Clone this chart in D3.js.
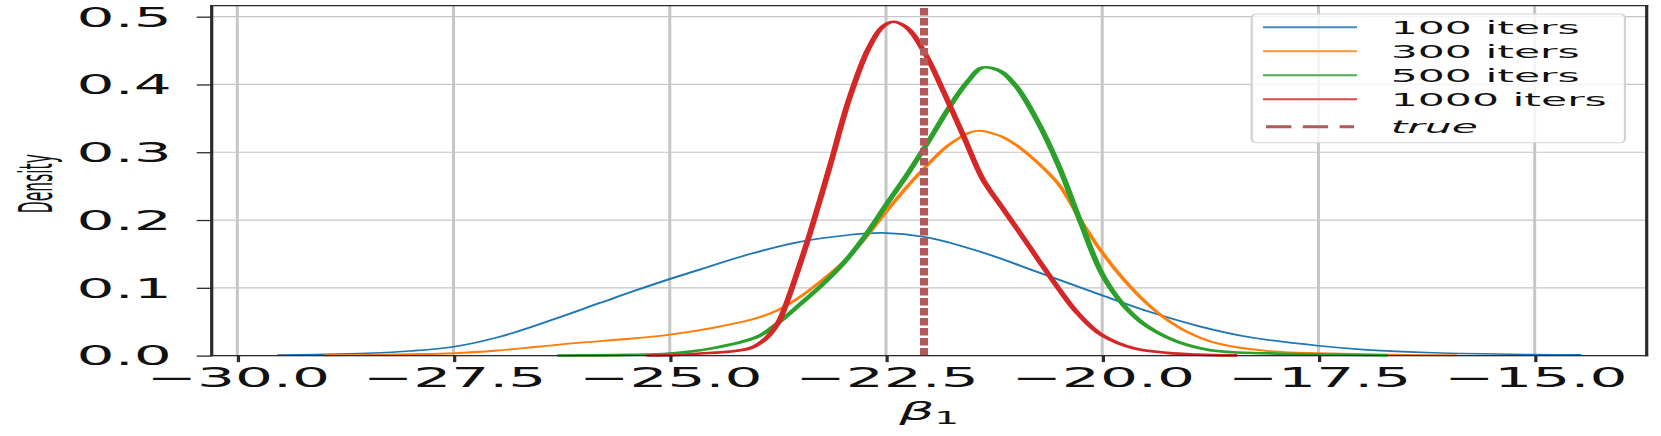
<!DOCTYPE html>
<html>
<head>
<meta charset="utf-8">
<script src="https://cdn.jsdelivr.net/npm/d3@7"></script>
<style>
  body { margin: 0; background: #fff; }
  svg { display: block; }
  text { font-family: "DejaVu Sans", sans-serif; fill: #111; }
</style>
</head>
<body>
<script>
const width = 1661;
const height = 436;
// the picture is stretched sideways, so everything is drawn narrow and scaled in x
const stretch = 2.3;

const seriesNames = ['100 iters', '300 iters', '500 iters', '1000 iters'];
const trueBeta = -22.06;
const xTicks = [-30, -27.5, -25, -22.5, -20, -17.5, -15];
const yTicks = [0, 0.1, 0.2, 0.3, 0.4, 0.5];

const beta100 = [-29.54, -29.0, -28.5, -28.0, -27.5, -26.96, -26.38, -25.8, -25.42, -25.0, -24.65, -24.07, -23.49, -22.93, -22.54, -22.05, -21.38, -20.72, -20.0, -19.44, -18.87, -18.29, -17.5, -16.94, -16.17, -15.0, -14.46];
const dens100 = [0.0008, 0.0018, 0.0035, 0.0068, 0.013, 0.028, 0.052, 0.078, 0.095, 0.113, 0.127, 0.150, 0.168, 0.178, 0.181, 0.175, 0.152, 0.122, 0.089, 0.064, 0.043, 0.027, 0.0145, 0.0085, 0.0042, 0.0015, 0.001];

const beta300 = [-29.0, -28.5, -28.0, -27.5, -27.0, -26.5, -26.0, -25.5, -25.0, -24.5, -24.0, -23.75, -23.5, -23.25, -23.0, -22.75, -22.5, -22.25, -22.0, -21.75, -21.45, -21.2, -21.0, -20.75, -20.5, -20.25, -20.0, -19.75, -19.5, -19.25, -19.0, -18.67, -18.1, -17.33, -16.5, -15.9];
const dens300 = [0.0005, 0.001, 0.002, 0.0035, 0.0075, 0.0135, 0.0195, 0.0245, 0.031, 0.041, 0.055, 0.067, 0.086, 0.110, 0.137, 0.172, 0.212, 0.250, 0.284, 0.313, 0.3315, 0.325, 0.311, 0.285, 0.252, 0.200, 0.152, 0.112, 0.079, 0.053, 0.034, 0.018, 0.007, 0.003, 0.001, 0.0005];

const beta500 = [-26.3, -25.5, -25.0, -24.5, -24.0, -23.75, -23.5, -23.25, -23.0, -22.75, -22.5, -22.25, -22.0, -21.75, -21.55, -21.38, -21.2, -21.0, -20.75, -20.5, -20.25, -20.0, -19.75, -19.5, -19.25, -19.0, -18.75, -18.48, -17.71, -16.7];
const dens500 = [0.0002, 0.001, 0.003, 0.011, 0.027, 0.048, 0.075, 0.103, 0.135, 0.175, 0.222, 0.268, 0.318, 0.370, 0.405, 0.425, 0.421, 0.398, 0.346, 0.279, 0.197, 0.120, 0.074, 0.045, 0.027, 0.015, 0.008, 0.005, 0.0024, 0.0005];

const beta1000 = [-25.27, -24.9, -24.65, -24.3, -24.07, -23.9, -23.75, -23.62, -23.5, -23.38, -23.15, -22.93, -22.71, -22.54, -22.42, -22.27, -22.05, -21.83, -21.6, -21.38, -21.16, -20.94, -20.72, -20.5, -20.28, -20.0, -19.64, -19.25, -18.9, -18.44];
const dens1000 = [0.0002, 0.001, 0.003, 0.006, 0.011, 0.024, 0.048, 0.088, 0.133, 0.180, 0.279, 0.377, 0.451, 0.485, 0.4925, 0.485, 0.446, 0.388, 0.323, 0.260, 0.219, 0.179, 0.138, 0.098, 0.062, 0.030, 0.011, 0.004, 0.0015, 0.0003];

const seriesBeta = [beta100, beta300, beta500, beta1000];
const seriesDens = [dens100, dens300, dens500, dens1000];

const colors = ['#1f77b4', '#ff7f0e', '#2ca02c', '#d62728'];
const lineWidths = [1.6, 1.9, 2.6, 2.6];
const trueColor = '#b35959';
const gridColor = '#c6c6c6';
const spineColor = '#2b2b2b';

function main() {
  const svg = d3.select('body').append('svg').attr('width', width).attr('height', height);
  const g = svg.append('g').attr('transform', `scale(${stretch},1)`);

  const x = d3.scaleLinear().domain([-30.296, -13.705]).range([211.7 / stretch, 1646.7 / stretch]);
  const y = d3.scaleLinear().domain([0, 0.5162]).range([355.6, 5.7]);

  drawGrid(g, x, y);
  drawCurves(g, x, y);
  drawTrueLine(g, x, y);
  drawAxes(g, x, y);
  drawLegend(g);
}

function drawGrid(g, x, y) {
  const [x0, x1] = x.range();
  const [y0, y1] = y.range();
  g.append('g').selectAll('line').data(xTicks).enter().append('line')
    .attr('x1', d => x(d)).attr('x2', d => x(d))
    .attr('y1', y0).attr('y2', y1)
    .attr('stroke', gridColor).attr('stroke-width', 1.3);
  g.append('g').selectAll('line').data(yTicks).enter().append('line')
    .attr('x1', x0).attr('x2', x1)
    .attr('y1', d => y(d)).attr('y2', d => y(d))
    .attr('stroke', gridColor).attr('stroke-width', 1.2);
}

function drawCurves(g, x, y) {
  const line = d3.line()
    .x(d => x(d[0]))
    .y(d => Math.min(y(d[1]), y(0)))
    .curve(d3.curveCatmullRom.alpha(0.5));
  seriesNames.forEach((name, i) => {
    const pts = seriesBeta[i].map((b, j) => [b, seriesDens[i][j]]);
    g.append('path')
      .datum(pts)
      .attr('d', line)
      .attr('fill', 'none')
      .attr('stroke', colors[i])
      .attr('stroke-width', lineWidths[i])
      .attr('stroke-linejoin', 'round');
  });
}

function drawTrueLine(g, x, y) {
  const [y0, y1] = y.range();
  g.append('line')
    .attr('x1', x(trueBeta)).attr('x2', x(trueBeta))
    .attr('y1', y0).attr('y2', y1)
    .attr('stroke', trueColor)
    .attr('stroke-width', 3.5)
    .attr('stroke-dasharray', '7.5,2.5');
}

function drawAxes(g, x, y) {
  const [x0, x1] = x.range();
  const [y0, y1] = y.range();

  const yAxis = g.append('g').attr('transform', `translate(${x0},0)`)
    .call(d3.axisLeft(y).tickValues(yTicks).tickFormat(d3.format('.1f')).tickSize(6.5).tickPadding(10.9));
  yAxis.select('.domain').remove();
  yAxis.selectAll('.tick line').attr('stroke', spineColor).attr('stroke-width', 1.3);
  yAxis.selectAll('.tick text').attr('font-size', 26).attr('fill', '#111').attr('dy', '0.36em');

  const xAxis = g.append('g').attr('transform', `translate(0,${y0})`)
    .call(d3.axisBottom(x).tickValues(xTicks).tickFormat(d3.format('.1f')).tickSize(6.5).tickPadding(6.4));
  xAxis.select('.domain').remove();
  xAxis.selectAll('.tick line').attr('stroke', spineColor).attr('stroke-width', 1.4);
  xAxis.selectAll('.tick text').attr('font-size', 26).attr('fill', '#111');

  // spines
  const spines = [
    [x0, y0, x0, y1, 1.4], [x1, y0, x1, y1, 1.4],
    [x0, y1, x1, y1, 1.3], [x0, y0, x1, y0, 1.3]
  ];
  g.append('g').selectAll('line').data(spines).enter().append('line')
    .attr('x1', d => d[0]).attr('y1', d => d[1])
    .attr('x2', d => d[2]).attr('y2', d => d[3])
    .attr('stroke', spineColor).attr('stroke-width', d => d[4])
    .attr('stroke-linecap', 'square');

  g.append('text')
    .attr('transform', `translate(${51.7 / stretch},${(y0 + y1) / 2 + 3}) rotate(-90)`)
    .attr('text-anchor', 'middle')
    .attr('font-size', 20)
    .attr('textLength', 59)
    .attr('lengthAdjust', 'spacingAndGlyphs')
    .text('Density');

  const xl = g.append('text')
    .attr('x', (x0 + x1) / 2)
    .attr('y', 420)
    .attr('text-anchor', 'middle')
    .attr('font-size', 24);
  xl.append('tspan').attr('font-style', 'italic').text('β');
  xl.append('tspan').attr('font-size', 17).attr('dy', 4).text('1');
}

function drawLegend(g) {
  const left = 1251.7 / stretch;
  const boxW = (1625 - 1251.7) / stretch;
  const rows = seriesNames.map((_, i) => 27.3 + i * 24).concat([27.3 + 4 * 24 + 3.4]);

  g.append('rect')
    .attr('x', left).attr('y', 14)
    .attr('width', boxW).attr('height', 128.7)
    .attr('rx', 2).attr('ry', 4)
    .attr('fill', 'white').attr('fill-opacity', 0.8)
    .attr('stroke', '#d3d3d3').attr('stroke-width', 1);

  const lx0 = 1263 / stretch;
  const lx1 = 1357 / stretch;
  const tx = 1390.7 / stretch;

  const items = g.append('g').selectAll('g').data(seriesNames).enter().append('g');
  items.append('line')
    .attr('x1', lx0).attr('x2', lx1)
    .attr('y1', (_, i) => rows[i]).attr('y2', (_, i) => rows[i])
    .attr('stroke', (_, i) => colors[i]).attr('stroke-width', 2).attr('stroke-opacity', 0.85);
  items.append('text')
    .attr('x', tx).attr('y', (_, i) => rows[i] + 6.8)
    .attr('font-size', 18.5).attr('fill', '#222')
    .text(d => d);

  g.append('line')
    .attr('x1', 1266 / stretch).attr('x2', 1354 / stretch)
    .attr('y1', rows[4]).attr('y2', rows[4])
    .attr('stroke', trueColor).attr('stroke-width', 3)
    .attr('stroke-dasharray', '11,5');
  g.append('text')
    .attr('x', tx).attr('y', rows[4] + 6.6)
    .attr('font-size', 18.5).attr('font-style', 'italic').attr('fill', '#222')
    .text('true');
}

main();
</script>
</body>
</html>
